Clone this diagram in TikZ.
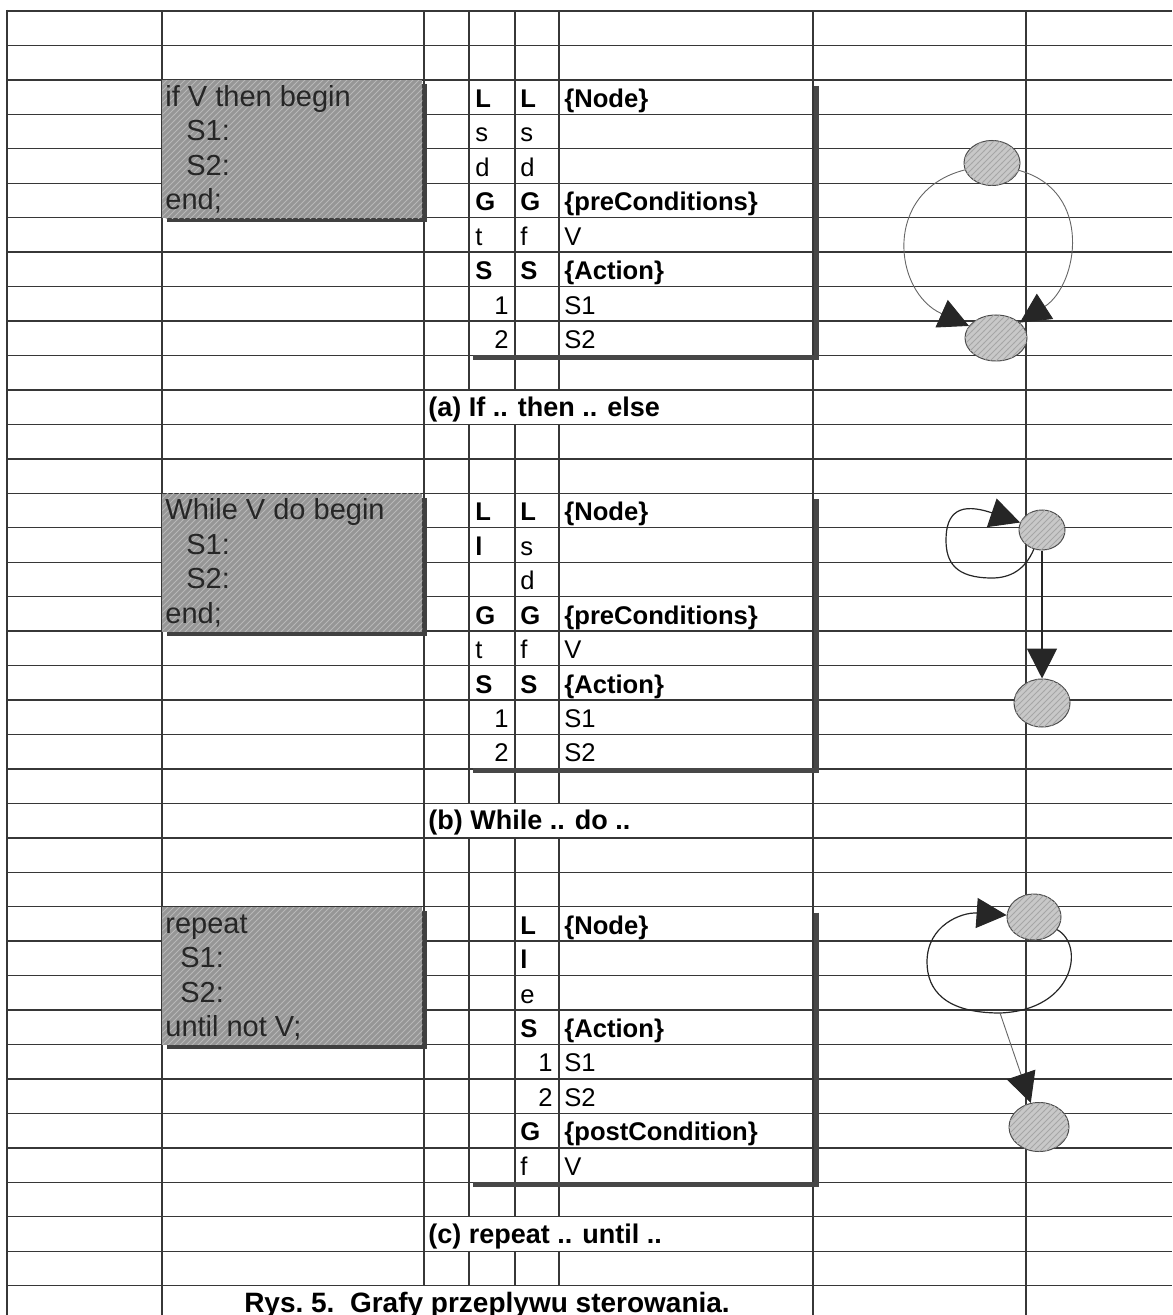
\documentclass[tikz,border=0pt]{standalone}
\usepackage{fontspec}
\setmainfont{Liberation Sans}
\usepackage{tikz}
\usetikzlibrary{arrows.meta,shapes.geometric,patterns,shadows}
\definecolor{inkgray}{RGB}{55,55,55}
\definecolor{boxgray}{RGB}{150,150,150}
\definecolor{blobgray}{RGB}{200,200,200}
\newcommand{\gridy}[1]{11+34.45*(#1)}
\newcommand{\tabfont}{\fontsize{12.8}{15}\selectfont}
\newcommand{\codefont}{\fontsize{14.5}{17}\selectfont}
\newcommand{\labfont}{\fontsize{13.5}{16}\selectfont\bfseries}
\newcommand{\capfont}{\fontsize{14}{16}\selectfont\bfseries}

\tikzset{
    gridline/.style={line width=0.7pt, inkgray},
    frameline/.style={line width=1.4pt, inkgray},
    codebox/.style={anchor=north west, inner sep=0pt, minimum width=130pt, minimum height=68.9pt,
        fill=boxgray, postaction={pattern=north east lines, pattern color=black!28},
        drop shadow={shadow xshift=2.5pt, shadow yshift=-2pt, opacity=1, fill=black!75}},
    codeline/.style={anchor=base west, inner sep=0pt, font=\codefont, text=black!85},
    cell/.style={anchor=base west, inner sep=0pt, font=\tabfont},
    numcell/.style={anchor=base east, inner sep=0pt, font=\tabfont},
    tshadow/.style={line width=2.5pt, black!72, line join=miter},
    lab/.style={anchor=base west, inner sep=0pt, font=\labfont},
    blob/.style={ellipse, inner sep=0pt, draw=black!70, line width=0.5pt, fill=blobgray,
        postaction={pattern=north east lines, pattern color=black!35}},
    flow/.style={line width=0.6pt, black!85, -{Triangle[length=15pt, width=15pt]}},
    thinflow/.style={line width=0.45pt, black!60, -{Triangle[length=15pt, width=15pt, color=black!85]}}
}

\begin{document}
\begin{tikzpicture}[x=0.5pt, y=-0.5pt]
                \useasboundingbox (0,0) rectangle (1172,1315);

                \foreach \k in {1,...,37}
                    \draw[gridline] (7,{\gridy{\k}}) -- (1172,{\gridy{\k}});
                \draw[frameline] (7,{\gridy{0}}) -- (1172,{\gridy{0}});
                \draw[frameline] (7,{\gridy{0}-1}) -- (7,1315);
                \foreach \x in {162,813,1026}
                    \draw[gridline] (\x,{\gridy{0}}) -- (\x,1315);
                \draw[gridline] (424,{\gridy{0}}) -- (424,{\gridy{37}});
                \foreach \x in {469,515,559}
                    \foreach \a/\b in {0/11,12/23,24/35,36/37}
                        \draw[gridline] (\x,{\gridy{\a}}) -- (\x,{\gridy{\b}});

                \node[codebox] (ifbox) at (162,{\gridy{2}}) {};
                \node[codebox] (whilebox) at (162,{\gridy{14}}) {};
                \node[codebox] (repeatbox) at (162,{\gridy{26}}) {};
                \foreach \r/\x/\t [count=\i] in {2/165/if V then begin, 3/186/S1:, 4/186/S2:, 5/165/end;,
                        14/165/While V do begin, 15/186/S1:, 16/186/S2:, 17/165/end;,
                        26/165/repeat, 27/180/S1:, 28/180/S2:, 29/165/until not V;}
                    \node[codeline] (code-\i) at (\x,{\gridy{\r+1}-8}) {\t};

                \foreach \t/\b in {2/10,14/22,26/34}
                    \draw[tshadow] (816,{\gridy{\t}+6}) -- (816,{\gridy{\b}+2}) -- (473,{\gridy{\b}+2});

                \foreach \r/\ca/\cb/\cc in {
                        2/\textbf{L}/\textbf{L}/\textbf{\{Node\}}, 3/s/s/{}, 4/d/d/{},
                        5/\textbf{G}/\textbf{G}/\textbf{\{preConditions\}}, 6/t/f/V,
                        7/\textbf{S}/\textbf{S}/\textbf{\{Action\}}, 8/{}/{}/S1, 9/{}/{}/S2,
                        14/\textbf{L}/\textbf{L}/\textbf{\{Node\}}, 15/\textbf{l}/s/{}, 16/{}/d/{},
                        17/\textbf{G}/\textbf{G}/\textbf{\{preConditions\}}, 18/t/f/V,
                        19/\textbf{S}/\textbf{S}/\textbf{\{Action\}}, 20/{}/{}/S1, 21/{}/{}/S2,
                        26/{}/\textbf{L}/\textbf{\{Node\}}, 27/{}/\textbf{l}/{}, 28/{}/e/{},
                        29/{}/\textbf{S}/\textbf{\{Action\}}, 30/{}/{}/S1, 31/{}/{}/S2,
                        32/{}/\textbf{G}/\textbf{\{postCondition\}}, 33/{}/f/V}
                {
                    \node[cell] (tab-\r-a) at (475,{\gridy{\r+1}-7}) {\ca};
                    \node[cell] (tab-\r-b) at (520,{\gridy{\r+1}-7}) {\cb};
                    \node[cell] (tab-\r-c) at (564,{\gridy{\r+1}-7}) {\cc};
                }
                \foreach \r/\x/\n in {8/509/1, 9/509/2, 20/509/1, 21/509/2, 30/553/1, 31/553/2}
                    \node[numcell] (num-\r) at (\x,{\gridy{\r+1}-7}) {\n};

                \node[lab] (lab-a) at (428,{\gridy{12}-8}) {(a) If .. then .. else};
                \node[lab] (lab-b) at (428,{\gridy{24}-8}) {(b) While .. do ..};
                \node[lab] (lab-c) at (428,{\gridy{36}-8}) {(c) repeat .. until ..};
                \node[anchor=base, inner sep=0pt, font=\capfont] (rys) at (487,1312)
                    {Rys.~5.\ \ Grafy przeplywu sterowania.};

                \node[blob, minimum width=28pt, minimum height=22.5pt] (ifa) at (992,163) {};
                \node[blob, minimum width=31pt, minimum height=23pt] (ifb) at (996,338) {};
                \draw[thinflow] (ifa) .. controls (882,191) and (893,292) .. (ifb);
                \draw[thinflow] (ifa) .. controls (1094,191) and (1078,285) .. (ifb);

                \node[blob, minimum width=23pt, minimum height=20pt] (wha) at (1042,530) {};
                \node[blob, minimum width=28pt, minimum height=24pt] (whb) at (1042,703) {};
                \draw[flow] (wha) .. controls (1025,570) and (1010,578) .. (992,578)
                    .. controls (955,578) and (946,562) .. (946,540)
                    .. controls (946,512) and (960,502) .. (wha);
                \draw[flow, line width=0.9pt] (wha) -- (whb);

                \node[blob, minimum width=27pt, minimum height=23pt] (rpa) at (1034,917) {};
                \node[blob, minimum width=30pt, minimum height=24.5pt] (rpb) at (1039,1127) {};
                \coordinate (rploop) at (1000,1013);
                \draw[flow] (rpa) .. controls (1085,945) and (1075,1010) .. (rploop)
                    .. controls (945,1013) and (927,990) .. (927,962)
                    .. controls (927,925) and (962,912) .. (rpa);
                \draw[thinflow] (rploop) -- (rpb);
            \end{tikzpicture}
\end{document}
